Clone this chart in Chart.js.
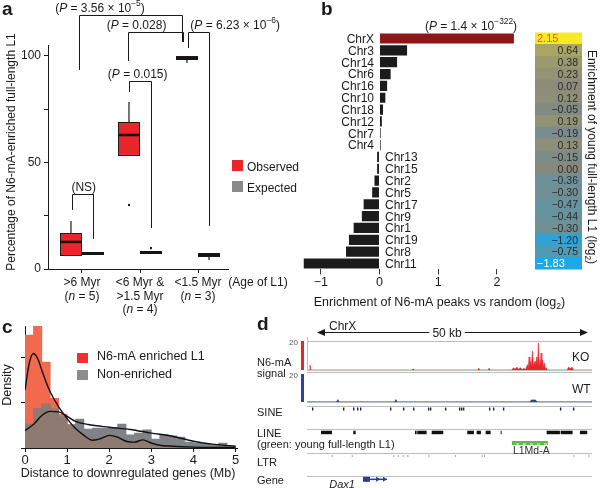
<!DOCTYPE html>
<html><head><meta charset="utf-8">
<script src="https://cdn.jsdelivr.net/npm/chart.js@4.4.1/dist/chart.umd.min.js"></script>
<style>
html,body{margin:0;padding:0;background:#fff;overflow:hidden;}
#wrap{position:relative;width:600px;height:488px;overflow:hidden;background:#fff;}
.box{position:absolute;}
.box canvas{display:block;}
</style></head><body><div id="wrap">
<div class="box" style="left:0;top:0;width:300px;height:318px"><canvas id="ca"></canvas></div>
<div class="box" style="left:300px;top:0;width:300px;height:312px"><canvas id="cb"></canvas></div>
<div class="box" style="left:530px;top:0;width:70px;height:312px"><canvas id="cbh"></canvas></div>
<div class="box" style="left:0;top:316px;width:255px;height:172px"><canvas id="cc"></canvas></div>
<div class="box" style="left:255px;top:316px;width:345px;height:64px"><canvas id="cd1"></canvas></div>
<div class="box" style="left:255px;top:370px;width:345px;height:34px"><canvas id="cd2"></canvas></div>
<div class="box" style="left:255px;top:402px;width:345px;height:86px"><canvas id="cd3"></canvas></div>
</div>
<script>
// ================= DATA =================
// Panel a: box plots (percentage of N6-mA-enriched full-length L1)
const ageSlots = [1, 2, 3];
const obsLow  = [6.1, 53.0, 96.6];
const obsQ1   = [6.1, 53.0, 98.0];
const obsMed  = [12.7, 62.8, 98.9];
const obsQ3   = [16.9, 68.9, 99.9];
const obsHigh = [22.5, 78.3, 99.9];
const obsOutliers = [null, 30.0, null];
const expLow  = [6.6, 7.0, 4.2];
const expQ1   = [6.6, 7.0, 5.6];
const expMed  = [7.3, 7.7, 6.5];
const expQ3   = [8.0, 8.4, 7.5];
const expHigh = [8.0, 8.4, 7.5];
const expOutliers = [null, 9.8, null];
const percentTicks = [0, 25, 50, 75, 100];

// Panel b
const chromosomes = ['ChrX','Chr3','Chr14','Chr6','Chr16','Chr10','Chr18','Chr12','Chr7','Chr4','Chr13','Chr15','Chr2','Chr5','Chr17','Chr9','Chr1','Chr19','Chr8','Chr11'];
const peakEnrichment = [2.29, 0.47, 0.30, 0.19, 0.13, 0.10, 0.06, 0.04, 0.02, 0.02, -0.04, -0.04, -0.085, -0.125, -0.27, -0.30, -0.44, -0.52, -0.57, -1.29];
const youngL1Enrichment = [2.15, 0.64, 0.38, 0.23, 0.07, 0.12, -0.05, 0.19, -0.19, 0.13, -0.15, 0.00, -0.36, -0.30, -0.47, -0.44, -0.30, -1.20, -0.75, -1.83];
const enrichTicks = [-1, 0, 1, 2];

// Panel c
const binCenters = [0.1,0.3,0.5,0.7,0.9,1.1,1.3,1.5,1.7,1.9,2.1,2.3,2.5,2.7,2.9,3.1,3.3,3.5,3.7,3.9,4.1,4.3,4.5,4.7,4.9];
const enrichedHist = [2.50,2.70,1.90,1.10,0.75,0.52,0.35,0.22,0.18,0.24,0.27,0.20,0.14,0.15,0.15,0.08,0.05,0.04,0.03,0.02,0.02,0.01,0.01,0.01,0.01];
const nonEnrichedHist = [0.53,0.88,0.97,0.86,0.69,0.51,0.64,0.42,0.44,0.44,0.46,0.53,0.29,0.33,0.40,0.20,0.29,0.27,0.24,0.13,0.11,0.09,0.07,0.11,0.04];
const enrichedCurveX = [0,0.1,0.2,0.3,0.4,0.5,0.6,0.8,1.0,1.2,1.4,1.6,1.8,2.0,2.2,2.4,2.6,2.8,3.0,3.2,3.5,4.0,4.5,5.0];
const enrichedCurveY = [1.28,1.87,2.09,1.98,1.72,1.46,1.24,0.91,0.65,0.43,0.28,0.17,0.21,0.28,0.24,0.15,0.13,0.18,0.11,0.06,0.04,0.02,0.01,0.01];
const nonEnrichedCurveX = [0,0.2,0.4,0.6,0.8,1.0,1.2,1.5,2.0,2.5,3.0,3.5,4.0,4.5,5.0];
const nonEnrichedCurveY = [0.39,0.52,0.72,0.81,0.80,0.70,0.59,0.52,0.46,0.41,0.33,0.26,0.15,0.08,0.04];
const distanceTicks = [0,1,2,3,4,5];
const densityTicks = [0,1,2];

// Panel d (positions in kb within the 52.6 kb window)
const arrowKb = [1.85, 51.85];
const koPos = [0,0.4,0.55,0.7,19.4,19.6,19.8,31.5,31.7,31.9,33.4,33.6,33.8,37.8,38.1,38.4,38.7,39.0,39.4,39.7,40.0,40.4,40.65,40.85,41.0,41.15,41.3,41.45,41.6,41.8,42.1,42.25,42.4,42.55,42.7,42.85,43.0,43.1,43.2,43.35,43.5,43.65,43.8,43.95,44.1,44.4,48.0,48.3,48.6,48.9,49.2,52.6];
const koSignal = [0,0,3.4,0,0,0.8,0,0,1.2,0,0,1.2,0,0,1.5,0.5,2.0,0.6,1.5,0.3,1.0,0.5,3.7,1.5,9,2.5,6,2,13,3,6,2.5,9,3,18.6,4,7,3,11.7,2.5,7,1.5,4.8,1,1.6,0,0,2,0.8,2,0,0];
const wtPos = [0,5.5,5.7,5.9,16.2,16.4,16.6,41.2,41.5,41.8,42.1,42.4,52.6];
const wtSignal = [0,0,1.2,0,0,1.2,0,0,1.3,1.1,1.3,0,0];
const sineFeatures = [[0.92,1.18],[6.64,6.9],[8.49,8.75],[9.23,9.49],[9.78,10.04],[15.31,15.57],[17.71,17.97],[19.56,19.82],[22.32,22.58],[22.69,22.95],[25.46,25.72],[28.04,28.3],[28.41,28.67],[28.78,29.04],[33.58,33.84],[34.32,34.58],[36.16,36.42],[46.68,46.94],[49.08,49.34]];
const lineFeatures = [[2.58,4.61],[8.54,8.99],[19.93,20.24],[20.35,22.08],[23.01,25.15],[29.58,30.81],[31.31,32.10],[32.97,33.89],[35.74,35.92],[44.23,46.68],[46.81,49.02],[50.37,51.72]];
const youngL1Features = [[37.82,44.46]];
const ltrFeatures = [[4.56,4.76],[8.25,8.45],[15.92,16.12],[16.73,16.93],[17.65,17.85],[18.51,18.71],[22.38,22.58],[27.31,27.51],[32.23,32.43],[32.66,32.86],[49.14,49.34],[51.91,52.11]];
const geneExons = [[10.33,11.62]];
const geneIntrons = [[11.62,14.76]];
const trackRow = {SINE:1, LINE:2, young:2.45, LTR:3, Gene:4};

// ================= HELPERS =================
const FONT = '"Liberation Sans", Arial, Helvetica, sans-serif';
const INK = '#1a1a1a';
Chart.defaults.font.family = FONT;
Chart.defaults.font.size = 12;
Chart.defaults.color = INK;
Chart.defaults.animation = false;
Chart.defaults.responsive = true;
Chart.defaults.maintainAspectRatio = false;
Chart.defaults.devicePixelRatio = 1;
Chart.defaults.events = [];
Chart.defaults.plugins.legend.display = false;
Chart.defaults.plugins.tooltip.enabled = false;

function drawRich(ctx, segs, x, y, size, align, color) {
  ctx.save();
  ctx.fillStyle = color || INK;
  ctx.textBaseline = 'alphabetic';
  ctx.textAlign = 'left';
  const parts = segs.map(([t, st]) => {
    const small = st === 'sup' || st === 'sub';
    const sz = small ? size * 0.7 : size;
    const font = (st === 'i' ? 'italic ' : st === 'b' ? 'bold ' : '') + sz + 'px ' + FONT;
    ctx.font = font;
    return {t, st, font, w: ctx.measureText(t).width};
  });
  const total = parts.reduce((a, p) => a + p.w, 0);
  let cx = align === 'center' ? x - total / 2 : align === 'right' ? x - total : x;
  for (const p of parts) {
    ctx.font = p.font;
    const dy = p.st === 'sup' ? -size * 0.42 : p.st === 'sub' ? size * 0.25 : 0;
    ctx.fillText(p.t, cx, y + dy);
    cx += p.w;
  }
  ctx.restore();
  return total;
}
function rotatedText(ctx, segs, cx, cy, size, angle) {
  ctx.save();
  ctx.translate(cx, cy);
  ctx.rotate(angle);
  drawRich(ctx, segs, 0, size * 0.36, size, 'center');
  ctx.restore();
}
function minusFmt(v) { return v < 0 ? '\u2212' + Math.abs(v) : String(v); }
function fixedTicks(vals) { return s => { s.ticks = vals.map(v => ({value: v})); }; }

// ================= PANEL A =================
const DODGE = 0.19;
function boxSets(low, q1, med, q3, high, outliers, off, fill) {
  const X = ageSlots.map(g => g + off);
  const bar = (data, thick, color, extra) => Object.assign({type: 'bar', data, backgroundColor: color, barThickness: thick, grouped: false, borderWidth: 0, inflateAmount: 0}, extra || {});
  return {
    med: bar(X.map((x, i) => ({x, y: [med[i] - 0.6, med[i] + 0.6]})), 22, '#141414'),
    box: bar(X.map((x, i) => ({x, y: [q1[i], q3[i]]})), 22, fill, {borderWidth: 1, borderColor: INK, borderSkipped: false}),
    whisk: bar(X.flatMap((x, i) => [{x, y: [low[i], q1[i]]}, {x, y: [q3[i], high[i]]}]), 1.2, INK),
    out: bar(X.map((x, i) => outliers[i] == null ? null : {x, y: [outliers[i] - 0.5, outliers[i] + 0.5]}).filter(Boolean), 2, INK)
  };
}
const OBS_RED = '#e8262b', EXP_GREY = '#8a8a8a';
const obsSets = boxSets(obsLow, obsQ1, obsMed, obsQ3, obsHigh, obsOutliers, -DODGE, OBS_RED);
const expSets = boxSets(expLow, expQ1, expMed, expQ3, expHigh, expOutliers, DODGE, EXP_GREY);

const brackets = [
  {x1: 0.83, x2: 1.19, top: 35.2, yL: 27.7, yR: 14.1, lx: 1.03, label: [['(NS)', '']]},
  {x1: 1.81, x2: 2.19, top: 88.1, yL: 83.0, yR: 19.2, lx: 1.96, label: [['(', ''], ['P', 'i'], [' = 0.015)', '']]},
  {x1: 1.79, x2: 2.74, top: 111.1, yL: 97.5, yR: 106.4, lx: 1.94, label: [['(', ''], ['P', 'i'], [' = 0.028)', '']]},
  {x1: 0.95, x2: 2.72, top: 119.1, yL: 93.3, yR: 106.4, lx: 1.31, label: [['(', ''], ['P', 'i'], [' = 3.56 \u00d7 10', ''], ['\u22125', 'sup'], [')', '']]},
  {x1: 2.83, x2: 3.19, top: 111.1, yL: 103.6, yR: 20.2, lx: 3.64, label: [['(', ''], ['P', 'i'], [' = 6.23 \u00d7 10', ''], ['\u22126', 'sup'], [')', '']]}
];
const ageLabels = [
  [[['>6 Myr', '']], [['(', ''], ['n', 'i'], [' = 5)', '']]],
  [[['<6 Myr &', '']], [['>1.5 Myr', '']], [['(', ''], ['n', 'i'], [' = 4)', '']]],
  [[['<1.5 Myr', '']], [['(', ''], ['n', 'i'], [' = 3)', '']]]
];

new Chart(document.getElementById('ca'), {
  type: 'bar',
  data: {datasets: [obsSets.med, expSets.med, obsSets.box, expSets.box, obsSets.whisk, expSets.whisk, obsSets.out, expSets.out]},
  options: {
    layout: {padding: {left: 0, right: 72, top: 45, bottom: 0}},
    scales: {
      x: {type: 'linear', min: 0.414, max: 3.517, offset: false,
          afterBuildTicks: fixedTicks(ageSlots), afterFit: s => { s.height = 49; },
          ticks: {display: false},
          grid: {drawOnChartArea: false, tickLength: 4, color: INK, offset: false},
          border: {color: INK, width: 1}},
      y: {min: 0, max: 105, afterBuildTicks: fixedTicks(percentTicks), afterFit: s => { s.width = 48; },
          ticks: {callback: v => v % 50 === 0 ? String(v) : '', font: {size: 12}, padding: 3, color: INK},
          grid: {drawOnChartArea: false, tickLength: 4, color: INK},
          border: {color: INK, width: 1}}
    }
  },
  plugins: [{id: 'annoA', afterDraw(chart) {
    const ctx = chart.ctx, xs = chart.scales.x, ys = chart.scales.y;
    drawRich(ctx, [['a', 'b']], 2, 15, 19, 'left');
    rotatedText(ctx, [['Percentage of N6-mA-enriched full-length L1', '']], 11, 152, 12, -Math.PI / 2);
    ageLabels.forEach((lines, i) => {
      const px = xs.getPixelForValue(ageSlots[i]);
      lines.forEach((segs, j) => drawRich(ctx, segs, px, 286 + j * 13.5, 12, 'center'));
    });
    drawRich(ctx, [['(Age of L1)', '']], 258, 286, 12, 'center');
    ctx.save(); ctx.strokeStyle = INK; ctx.lineWidth = 1;
    brackets.forEach(b => {
      const x1 = Math.round(xs.getPixelForValue(b.x1)) + 0.5, x2 = Math.round(xs.getPixelForValue(b.x2)) + 0.5;
      const t = Math.round(ys.getPixelForValue(b.top)) + 0.5;
      ctx.beginPath();
      ctx.moveTo(x1, ys.getPixelForValue(b.yL)); ctx.lineTo(x1, t); ctx.lineTo(x2, t); ctx.lineTo(x2, ys.getPixelForValue(b.yR));
      ctx.stroke();
      drawRich(ctx, b.label, xs.getPixelForValue(b.lx), t - 4, 12, 'center');
    });
    ctx.restore();
    ctx.fillStyle = OBS_RED; ctx.fillRect(232, 160, 11, 11);
    ctx.fillStyle = EXP_GREY; ctx.fillRect(232, 181, 11, 11);
    drawRich(ctx, [['Observed', '']], 247, 170.5, 12, 'left');
    drawRich(ctx, [['Expected', '']], 247, 191.5, 12, 'left');
  }}]
});

// ================= PANEL B =================
new Chart(document.getElementById('cb'), {
  type: 'bar',
  data: {labels: chromosomes, datasets: [{
    data: peakEnrichment,
    backgroundColor: chromosomes.map((c, i) => i === 0 ? '#8c1618' : '#1b1b1b'),
    barPercentage: 0.86, categoryPercentage: 1, borderWidth: 0
  }]},
  options: {
    indexAxis: 'y',
    layout: {padding: {left: 0, right: 84.5, top: 32.6, bottom: 0}},
    scales: {
      x: {type: 'linear', min: -1.354, max: 2.317, afterBuildTicks: fixedTicks(enrichTicks),
          afterFit: s => { s.height = 42.6; },
          ticks: {callback: v => minusFmt(v), font: {size: 12.5}, padding: 1, maxRotation: 0, color: INK},
          grid: {drawOnChartArea: false, tickLength: 5, color: '#333'},
          border: {display: false}},
      y: {type: 'category', display: false}
    }
  },
  plugins: [{id: 'annoB', afterDraw(chart) {
    const ctx = chart.ctx, xs = chart.scales.x, ys = chart.scales.y;
    const zero = xs.getPixelForValue(0);
    chromosomes.forEach((c, i) => {
      const py = ys.getPixelForValue(i);
      if (peakEnrichment[i] >= 0) drawRich(ctx, [[c, '']], zero - 5.5, py + 4.4, 12, 'right');
      else drawRich(ctx, [[c, '']], zero + 5.5, py + 4.4, 12, 'left');
    });
    drawRich(ctx, [['b', 'b']], 21, 15, 19, 'left');
    drawRich(ctx, [['(', ''], ['P', 'i'], [' = 1.4 \u00d7 10', ''], ['\u2212322', 'sup'], [')', '']], 171, 29.5, 12, 'center');
    drawRich(ctx, [['Enrichment of N6-mA peaks vs random (log', ''], ['2', 'sub'], [')', '']], 139.5, 306, 12.5, 'center');
  }}]
});

function mix(a, b, t) { return 'rgb(' + a.map((v, i) => Math.round(v + (b[i] - v) * t)).join(',') + ')'; }
function heatColor(v) {
  const mid = [136, 137, 126];
  if (v >= 0) return mix(mid, [246, 234, 38], Math.min(v / 2.15, 1));
  return mix(mid, [28, 170, 230], Math.min(-v / 1.45, 1));
}
new Chart(document.getElementById('cbh'), {
  type: 'bar',
  data: {labels: chromosomes, datasets: [{
    data: chromosomes.map(() => [0, 1]),
    backgroundColor: youngL1Enrichment.map(heatColor),
    barPercentage: 1, categoryPercentage: 1, borderWidth: 0, inflateAmount: 0.5
  }]},
  options: {
    indexAxis: 'y',
    layout: {padding: {left: 5, right: 18, top: 32.6, bottom: 42.6}},
    scales: {x: {min: 0, max: 1, display: false}, y: {type: 'category', display: false}}
  },
  plugins: [{id: 'annoH', afterDraw(chart) {
    const ctx = chart.ctx, ys = chart.scales.y, area = chart.chartArea;
    youngL1Enrichment.forEach((v, i) => {
      const py = ys.getPixelForValue(i);
      const txt = v.toFixed(2).replace('-', '\u2212');
      if (Math.abs(v) > 1.5) drawRich(ctx, [[txt, '']], area.left + 2, py + 3.8, 11, 'left', v > 0 ? '#ee5424' : '#ffffff');
      else drawRich(ctx, [[txt, '']], area.right - 4, py + 3.8, 10.5, 'right', '#2a2a2a');
    });
    rotatedText(ctx, [['Enrichment of young full-length L1 (log', ''], ['2', 'sub'], [')', '']], 62, 157, 12, Math.PI / 2);
  }}]
});

// ================= PANEL C =================
const C_RED = '#f26a4d', C_GREY = '#7f8388', C_OVER = '#8e7a70';
const overlapHist = enrichedHist.map((v, i) => Math.min(v, nonEnrichedHist[i]));
const histSet = (vals, color, order) => ({type: 'bar', data: binCenters.map((x, i) => ({x, y: vals[i]})), backgroundColor: color,
  grouped: false, barPercentage: 1, categoryPercentage: 1, borderWidth: 0, order});
new Chart(document.getElementById('cc'), {
  type: 'bar',
  data: {datasets: [
    {type: 'line', data: enrichedCurveX.map((x, i) => ({x, y: enrichedCurveY[i]})), borderColor: '#111', borderWidth: 1.4, pointRadius: 0, cubicInterpolationMode: 'monotone', fill: false, order: 0},
    {type: 'line', data: nonEnrichedCurveX.map((x, i) => ({x, y: nonEnrichedCurveY[i]})), borderColor: '#111', borderWidth: 1.4, pointRadius: 0, cubicInterpolationMode: 'monotone', fill: false, order: 0},
    histSet(overlapHist, C_OVER, 1),
    histSet(nonEnrichedHist, C_GREY, 2),
    histSet(enrichedHist, C_RED, 3)
  ]},
  options: {
    layout: {padding: {left: 0, right: 17.4, top: 10, bottom: 0}},
    scales: {
      x: {type: 'linear', min: 0, max: 5.05, offset: false, afterBuildTicks: fixedTicks(distanceTicks),
          afterFit: s => { s.height = 40; },
          ticks: {font: {size: 13}, padding: 1, maxRotation: 0, color: INK},
          grid: {drawOnChartArea: false, tickLength: 4, color: INK, offset: false},
          border: {color: INK}},
      y: {min: 0, max: 2.7, afterBuildTicks: fixedTicks(densityTicks), afterFit: s => { s.width = 25; },
          ticks: {display: false},
          grid: {drawOnChartArea: false, tickLength: 4, color: INK},
          border: {color: INK}}
    }
  },
  plugins: [{id: 'annoC', afterDraw(chart) {
    const ctx = chart.ctx;
    drawRich(ctx, [['c', 'b']], 2, 17, 19, 'left');
    rotatedText(ctx, [['Density', '']], 6, 69, 12.5, -Math.PI / 2);
    drawRich(ctx, [['Distance to downregulated genes (Mb)', '']], 128, 161, 12.5, 'center');
    ctx.fillStyle = '#ee3030'; ctx.fillRect(77, 37, 11, 10);
    ctx.fillStyle = '#8c8c8c'; ctx.fillRect(77, 54, 11, 10);
    drawRich(ctx, [['N6-mA enriched L1', '']], 97, 44, 12.5, 'left');
    drawRich(ctx, [['Non-enriched', '']], 97, 61.5, 12.5, 'left');
  }}]
});

// ================= PANEL D =================
const KB_MAX = 52.6;
const TRACK_LINE = '#bdbdbd';
function trackLines(chart) {
  const ctx = chart.ctx, a = chart.chartArea;
  ctx.save(); ctx.strokeStyle = TRACK_LINE; ctx.lineWidth = 1;
  [a.top, a.bottom].forEach(y => { ctx.beginPath(); ctx.moveTo(a.left, Math.round(y) + 0.5); ctx.lineTo(a.right, Math.round(y) + 0.5); ctx.stroke(); });
  ctx.restore();
}
const dPad = {left: 52, right: 8};

new Chart(document.getElementById('cd1'), {
  type: 'line',
  data: {datasets: [{data: koPos.map((x, i) => ({x, y: koSignal[i]})), fill: 'origin', backgroundColor: '#e8232a', borderColor: '#e8232a', borderWidth: 0.6, pointRadius: 0, tension: 0}]},
  options: {
    layout: {padding: {left: dPad.left, right: dPad.right, top: 25, bottom: 10}},
    scales: {x: {type: 'linear', min: 0, max: KB_MAX, display: false}, y: {min: 0, max: 20, display: false}}
  },
  plugins: [{id: 'annoD1', beforeDatasetsDraw: trackLines, afterDraw(chart) {
    const ctx = chart.ctx, xs = chart.scales.x, a = chart.chartArea;
    drawRich(ctx, [['d', 'b']], 2, 14, 19, 'left');
    const ay = 16.5, x1 = xs.getPixelForValue(arrowKb[0]), x2 = xs.getPixelForValue(arrowKb[1]);
    const midKb = (arrowKb[0] + arrowKb[1]) / 2 - 1;
    const mx = xs.getPixelForValue(midKb);
    ctx.save();
    ctx.font = '12px ' + FONT;
    const lw = ctx.measureText('50 kb').width;
    ctx.strokeStyle = INK; ctx.fillStyle = INK; ctx.lineWidth = 1.2;
    ctx.beginPath(); ctx.moveTo(x1 + 6, ay); ctx.lineTo(mx - lw / 2 - 3, ay); ctx.moveTo(mx + lw / 2 + 3, ay); ctx.lineTo(x2 - 6, ay); ctx.stroke();
    ctx.beginPath(); ctx.moveTo(x1, ay); ctx.lineTo(x1 + 8, ay - 3.5); ctx.lineTo(x1 + 8, ay + 3.5); ctx.closePath(); ctx.fill();
    ctx.beginPath(); ctx.moveTo(x2, ay); ctx.lineTo(x2 - 8, ay - 3.5); ctx.lineTo(x2 - 8, ay + 3.5); ctx.closePath(); ctx.fill();
    ctx.restore();
    drawRich(ctx, [['50 kb', '']], mx, ay + 4.3, 12, 'center');
    drawRich(ctx, [['ChrX', '']], xs.getPixelForValue(4.06), 13.5, 12, 'left');
    ctx.fillStyle = '#e8232a'; ctx.fillRect(46, a.top, 3, a.bottom - a.top);
    ctx.strokeStyle = '#f4a8a8'; ctx.lineWidth = 1;
    ctx.beginPath(); ctx.moveTo(a.left + 0.5, a.top - 4); ctx.lineTo(a.left + 0.5, a.bottom); ctx.stroke();
    drawRich(ctx, [['20', '']], 43, a.top + 4, 8, 'right', '#555');
    drawRich(ctx, [['N6-mA', '']], 2, 49.5, 11, 'left');
    drawRich(ctx, [['signal', '']], 2, 61, 11, 'left');
    drawRich(ctx, [['KO', '']], 317, 44.5, 12, 'left');
  }}]
});

new Chart(document.getElementById('cd2'), {
  type: 'line',
  data: {datasets: [{data: wtPos.map((x, i) => ({x, y: wtSignal[i]})), fill: 'origin', backgroundColor: '#2b3fae', borderColor: '#2b3fae', borderWidth: 1.2, pointRadius: 0, tension: 0}]},
  options: {
    layout: {padding: {left: dPad.left, right: dPad.right, top: 2, bottom: 2}},
    scales: {x: {type: 'linear', min: 0, max: KB_MAX, display: false}, y: {min: 0, max: 20, display: false}}
  },
  plugins: [{id: 'annoD2', beforeDatasetsDraw: trackLines, afterDraw(chart) {
    const ctx = chart.ctx, a = chart.chartArea;
    ctx.fillStyle = '#2b3fae'; ctx.fillRect(46, a.top + 2, 3, a.bottom - a.top - 2);
    drawRich(ctx, [['20', '']], 43, a.top + 6, 8, 'right', '#555');
    drawRich(ctx, [['WT', '']], 317, 22.5, 12, 'left');
  }}]
});

const pc = document.createElement('canvas'); pc.width = 7; pc.height = 4;
const pctx = pc.getContext('2d');
pctx.fillStyle = '#5cbd45'; pctx.fillRect(0, 0, 7, 4);
pctx.fillStyle = '#e9f7e4'; pctx.fillRect(2, 1.5, 3, 1);
const greenPattern = document.getElementById('cd3').getContext('2d').createPattern(pc, 'repeat');
const featSet = (feats, row, thick, color) => ({data: feats.map(([s, e]) => ({y: row, x: [s, e]})), backgroundColor: color,
  barThickness: thick, grouped: false, borderWidth: 0, inflateAmount: 0});
new Chart(document.getElementById('cd3'), {
  type: 'bar',
  data: {datasets: [
    featSet(sineFeatures, trackRow.SINE, 3, '#222'),
    featSet(lineFeatures, trackRow.LINE, 3.5, '#111'),
    featSet(youngL1Features, trackRow.young, 4, greenPattern),
    featSet(ltrFeatures, trackRow.LTR, 2, '#a8a8a8'),
    featSet(geneExons, trackRow.Gene, 5, '#1f3fa6'),
    featSet(geneIntrons, trackRow.Gene, 1.5, '#1f3fa6')
  ]},
  options: {
    indexAxis: 'y',
    layout: {padding: {left: dPad.left, right: dPad.right, top: 0, bottom: 0}},
    scales: {x: {type: 'linear', min: 0, max: KB_MAX, display: false},
             y: {type: 'linear', min: 0.7, max: 4.37, reverse: true, offset: false, display: false}}
  },
  plugins: [{id: 'annoD3', beforeDatasetsDraw(chart) {
    const ctx = chart.ctx, ys = chart.scales.y, a = chart.chartArea;
    ctx.save(); ctx.strokeStyle = TRACK_LINE; ctx.lineWidth = 1;
    [trackRow.SINE, trackRow.LINE, trackRow.LTR, trackRow.Gene].forEach(r => {
      const y = Math.round(ys.getPixelForValue(r) - 3) + 0.5;
      ctx.beginPath(); ctx.moveTo(a.left, y); ctx.lineTo(a.right, y); ctx.stroke();
    });
    ctx.restore();
  }, afterDraw(chart) {
    const ctx = chart.ctx, xs = chart.scales.x, ys = chart.scales.y;
    const rowY = r => ys.getPixelForValue(r);
    drawRich(ctx, [['SINE', '']], 2, rowY(trackRow.SINE) + 7, 11, 'left');
    drawRich(ctx, [['LINE', '']], 2, rowY(trackRow.LINE) + 4.5, 11, 'left');
    drawRich(ctx, [['(green: young full-length L1)', '']], 2, rowY(trackRow.LINE) + 16, 11, 'left');
    drawRich(ctx, [['LTR', '']], 2, rowY(trackRow.LTR) + 10, 11, 'left');
    drawRich(ctx, [['Gene', '']], 2, rowY(trackRow.Gene) + 4.5, 11, 'left');
    drawRich(ctx, [['L1Md-A', '']], xs.getPixelForValue(youngL1Features[0][0]) + 1, rowY(trackRow.young) + 10.5, 10.5, 'left', '#333');
    const gy = rowY(trackRow.Gene);
    ctx.save(); ctx.fillStyle = '#1f3fa6';
    geneIntrons.forEach(([s, e]) => {
      [(s + e) / 2 + 0.3, e].forEach(k => {
        const px = xs.getPixelForValue(k);
        ctx.beginPath(); ctx.moveTo(px, gy); ctx.lineTo(px - 4, gy - 2.5); ctx.lineTo(px - 4, gy + 2.5); ctx.closePath(); ctx.fill();
      });
    });
    ctx.restore();
    drawRich(ctx, [['Dax1', 'i']], xs.getPixelForValue(geneExons[0][0]) - 8, 86, 11, 'right');
  }}]
});
</script>
</body></html>
